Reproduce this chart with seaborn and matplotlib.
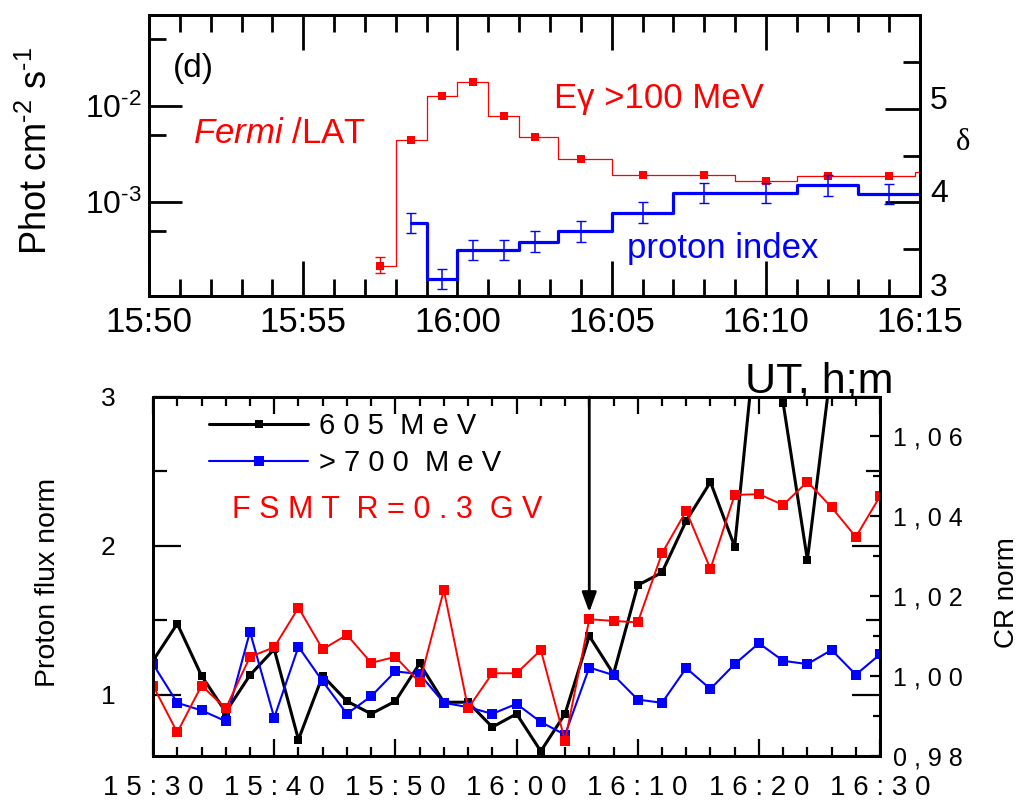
import pandas as pd
import seaborn as sns
import matplotlib.pyplot as plt
from matplotlib.ticker import MultipleLocator, LogLocator, FuncFormatter, NullFormatter


# panel (d): Fermi/LAT flux (left, log) and proton index (right)
fermi_time = ["15:57:30", "15:58:30", "15:59:30", "16:00:30", "16:01:30", "16:02:30",
              "16:04:00", "16:06:00", "16:08:00", "16:10:00", "16:12:00", "16:14:00", "16:15:40"]
fermi_flux = [2.15e-4, 4.43e-3, 1.27e-2, 1.78e-2, 7.87e-3, 4.7e-3,
              2.78e-3, 1.92e-3, 1.93e-3, 1.66e-3, 1.88e-3, 1.87e-3, 2.07e-3]
fermi_err_time = ["15:57:30"]
fermi_err_low = [1.82e-4]
fermi_err_high = [2.67e-4]

index_time = ["15:58:30", "15:59:30", "16:00:30", "16:01:30", "16:02:30", "16:04:00",
              "16:06:00", "16:08:00", "16:10:00", "16:12:00", "16:14:00", "16:16:00"]
proton_index = [3.78, 3.18, 3.49, 3.49, 3.58, 3.69, 3.89, 4.10, 4.10, 4.18, 4.09, 4.09]
index_err = [0.11, 0.11, 0.11, 0.11, 0.11, 0.11, 0.11, 0.11, 0.11, 0.11, 0.11]

# lower panel: normalised proton fluxes (left) and FSMT count rate (right)
cr_time = ["15:30", "15:32", "15:34", "15:36", "15:38", "15:40", "15:42", "15:44",
           "15:46", "15:48", "15:50", "15:52", "15:54", "15:56", "15:58", "16:00",
           "16:02", "16:04", "16:06", "16:08", "16:10", "16:12", "16:14", "16:16",
           "16:18", "16:20", "16:22", "16:24", "16:26", "16:28", "16:30"]
flux_605 = [1.23, 1.478, 1.129, 0.885, 1.133, 1.307, 0.70, 1.129, 0.958, 0.873, 0.958,
            1.211, 0.951, 0.951, 0.784, 0.873, 0.622, 0.873, 1.396, 1.14, 1.736, 1.822,
            2.169, 2.429, 1.996, 3.61, 2.96, 1.907, 3.22, 3.5, 3.4]
flux_700 = [1.207, 0.947, 0.896, 0.824, 1.424, 0.847, 1.324, 1.091, 0.873, 0.991, 1.158,
            1.14, 0.947, 0.918, 0.873, 0.94, 0.818, 0.733, 1.184, 1.133, 0.969, 0.947,
            1.18, 1.04, 1.207, 1.347, 1.229, 1.207, 1.302, 1.136, 1.273]
fsmt_cr = [0.9976, 0.9859, 0.9976, 0.9919, 1.0048, 1.0072, 1.0171, 1.0067, 1.0103, 1.0033,
           1.0048, 0.9984, 1.0215, 0.9919, 1.0007, 1.0007, 1.0065, 0.9838, 1.0142, 1.0138,
           1.0134, 1.0307, 1.0413, 1.0268, 1.0453, 1.0455, 1.0428, 1.0486, 1.0422, 1.0348,
           1.045]
arrow_time = "16:06"
arrow_tip = 1.555


def minutes(t):
    parts = [int(p) for p in t.split(":")]
    return parts[0] * 60 + parts[1] + (parts[2] / 60 if len(parts) > 2 else 0)


def hm(v, pos=None):
    v = int(round(v))
    return f"{v // 60}:{v % 60:02d}"


def hm_spaced(v, pos=None):
    return " ".join(hm(v))


def comma_spaced(v, pos=None):
    return " ".join(f"{v:.2f}".replace(".", ","))


sns.set_theme(style="ticks", rc={"axes.edgecolor": "black", "xtick.color": "black",
                                 "ytick.color": "black", "text.color": "black",
                                 "axes.labelcolor": "black"})
plt.rcParams["font.family"] = ["Liberation Sans", "DejaVu Sans"]
plt.rcParams["mathtext.fontset"] = "custom"
plt.rcParams["mathtext.rm"] = "Liberation Sans"
plt.rcParams["mathtext.it"] = "Liberation Sans:italic"
plt.rcParams["mathtext.default"] = "regular"

fig = plt.figure(figsize=(10.23, 8.0), dpi=100)
ax1 = fig.add_axes([0.1457, 0.63, 0.7537, 0.35125])
ax2 = fig.add_axes([0.1496, 0.055, 0.7107, 0.44875])

# ---------- top panel ----------
df_fermi = pd.DataFrame({"t": [minutes(t) for t in fermi_time], "flux": fermi_flux})
ax1.set_yscale("log")
sns.lineplot(data=df_fermi, x="t", y="flux", ax=ax1, color="#ff0000", lw=0.9,
             drawstyle="steps-mid", marker="s", markersize=5.5, mec="#ff0000", mew=0,
             errorbar=None, legend=False)
et = [minutes(t) for t in fermi_err_time]
ey = [fermi_flux[fermi_time.index(t)] for t in fermi_err_time]
ax1.errorbar(et, ey, yerr=[[y - lo for y, lo in zip(ey, fermi_err_low)],
                           [hi - y for y, hi in zip(ey, fermi_err_high)]],
             fmt="none", ecolor="#ff0000", elinewidth=1, capsize=3.5)
ax1.set_xlim(950, 975)
ax1.set_ylim(1.05e-4, 8.87e-2)
ax1.set_xlabel("")
ax1.set_ylabel("")

ax1r = ax1.twinx()
df_index = pd.DataFrame({"t": [minutes(t) for t in index_time], "delta": proton_index})
sns.lineplot(data=df_index, x="t", y="delta", ax=ax1r, color="#0000ff", lw=2.3,
             drawstyle="steps-mid", errorbar=None, legend=False)
n_err = len(index_err)
ax1r.errorbar(df_index["t"][:n_err], df_index["delta"][:n_err], yerr=index_err,
              fmt="none", ecolor="#0000ff", elinewidth=1.1, capsize=3.5)
ax1r.set_ylim(3, 6)
ax1r.set_ylabel("")

ax1.xaxis.set_major_locator(MultipleLocator(5))
ax1.xaxis.set_minor_locator(MultipleLocator(1))
ax1.xaxis.set_major_formatter(FuncFormatter(hm))
ax1.set_yticks([1e-3, 1e-2], labels=[r"$10^{\text{-3}}$", r"$10^{\text{-2}}$"])
ax1.yaxis.set_minor_locator(LogLocator(base=10, subs=[5.0]))
ax1.yaxis.set_minor_formatter(NullFormatter())
ax1.tick_params(axis="x", which="both", direction="in", top=True, bottom=True, width=2)
ax1.tick_params(axis="x", which="major", length=25, labelsize=25, pad=7)
ax1.tick_params(axis="x", which="minor", length=12)
ax1.tick_params(axis="y", which="both", direction="in", left=True, right=False, width=2)
ax1.tick_params(axis="y", which="major", length=24, labelsize=23, pad=5)
ax1.tick_params(axis="y", which="minor", length=12)

ax1r.set_yticks([3, 4, 5])
ax1r.yaxis.set_minor_locator(MultipleLocator(0.5))
ax1r.tick_params(axis="y", which="both", direction="in", width=2, left=False, right=True)
ax1r.tick_params(axis="y", which="major", length=25, labelsize=23, pad=7)
ax1r.tick_params(axis="y", which="minor", length=12)
for tk in ax1r.yaxis.get_major_ticks():
    tk.label2.set_va("baseline")

for a in (ax1, ax1r):
    for s in a.spines.values():
        s.set_linewidth(2)
        s.set_visible(True)

fig.text(173 / 1023, 1 - 77 / 800, "(d)", fontsize=24, ha="left", va="baseline")
fig.text(193 / 1023, 1 - 143 / 800, r"$\mathit{Fermi\ /}$LAT", fontsize=25,
         color="#ff0000", ha="left", va="baseline")
fig.text(554 / 1023, 1 - 108 / 800, "E\u03b3 >100 MeV", fontsize=25,
         color="#ff0000", ha="left", va="baseline")
fig.text(627 / 1023, 1 - 258 / 800, "proton index", fontsize=25,
         color="#0000ff", ha="left", va="baseline")
fig.text(963 / 1023, 1 - 143 / 800, "\u03b4", fontsize=22, family="Liberation Serif",
         ha="center", va="center")
fig.text(37 / 1023, 1 - 151 / 800, r"Phot cm$^{\text{-2}}$ s$^{\text{-1}}$", fontsize=26,
         rotation=90, ha="center", va="center")
fig.text(745 / 1023, 1 - 393 / 800, "UT, h;m", fontsize=31, ha="left", va="baseline")

# ---------- bottom panel ----------
df_cr = pd.DataFrame({"t": [minutes(t) for t in cr_time], "p605": flux_605,
                      "p700": flux_700, "fsmt": fsmt_cr})
sns.lineplot(data=df_cr, x="t", y="p605", ax=ax2, color="black", lw=2.2, marker="s",
             markersize=5.5, mec="black", mew=0, errorbar=None, label="6 0 5  M e V")
sns.lineplot(data=df_cr, x="t", y="p700", ax=ax2, color="#0000ff", lw=1.5, marker="s",
             markersize=7, mec="#0000ff", mew=0, errorbar=None, label="> 7 0 0  M e V")
ax2.set_xlim(930, 990)
ax2.set_ylim(0.59, 3.0)
ax2.set_xlabel("")
ax2.set_ylabel("")

ax2r = ax2.twinx()
sns.lineplot(data=df_cr, x="t", y="fsmt", ax=ax2r, color="#ff0000", lw=1.4, marker="s",
             markersize=7, mec="#ff0000", mew=0, errorbar=None, legend=False)
ax2r.set_ylim(0.98, 1.0698)
ax2r.set_ylabel("")

ax2.annotate("", xy=(minutes(arrow_time), arrow_tip), xytext=(minutes(arrow_time), 3.0),
             arrowprops=dict(arrowstyle="-|>,head_length=0.6,head_width=0.22",
                             mutation_scale=20, color="black", lw=2,
                             shrinkA=0, shrinkB=0))

ax2.xaxis.set_major_locator(MultipleLocator(10))
ax2.xaxis.set_minor_locator(MultipleLocator(2))
ax2.xaxis.set_major_formatter(FuncFormatter(hm_spaced))
ax2.set_yticks([1, 2, 3])
ax2.yaxis.set_minor_locator(MultipleLocator(0.5))
ax2.tick_params(axis="x", which="both", direction="in", top=True, bottom=True, width=1.6)
ax2.tick_params(axis="x", which="major", length=12, labelsize=20, pad=14)
ax2.tick_params(axis="x", which="minor", length=6.5)
ax2.tick_params(axis="y", which="both", direction="in", left=True, right=True,
                labelright=False, width=1.6)
ax2.tick_params(axis="y", which="major", length=20, labelsize=19, pad=27)
ax2.tick_params(axis="y", which="minor", length=10)

ax2r.yaxis.set_major_locator(MultipleLocator(0.02))
ax2r.yaxis.set_minor_locator(MultipleLocator(0.01))
ax2r.yaxis.set_major_formatter(FuncFormatter(comma_spaced))
ax2r.tick_params(axis="y", which="both", direction="in", left=False, right=True, width=1.6)
ax2r.tick_params(axis="y", which="major", length=7, labelsize=18, pad=9)
ax2r.tick_params(axis="y", which="minor", length=5)

for a in (ax2, ax2r):
    for s in a.spines.values():
        s.set_linewidth(2)
        s.set_visible(True)

handles, labels = ax2.get_legend_handles_labels()
ax2.legend(handles, labels, loc="upper left", bbox_to_anchor=(0.077, 0.958),
           frameon=False, fontsize=21, handlelength=3.4, handletextpad=0.38,
           labelspacing=0.3, borderpad=0, borderaxespad=0)
ax2.text(0.1087, 0.685, "F S M T  R = 0 . 3  G V", transform=ax2.transAxes,
         fontsize=22, color="#ff0000", ha="left", va="center")

fig.text(48 / 1023, 1 - 582 / 800, "Proton flux norm", fontsize=20.5, rotation=90,
         ha="center", va="center")
fig.text(1007 / 1023, 1 - 593 / 800, "CR norm", fontsize=20, rotation=90,
         ha="center", va="center")

fig.savefig("out.png", dpi=100)
